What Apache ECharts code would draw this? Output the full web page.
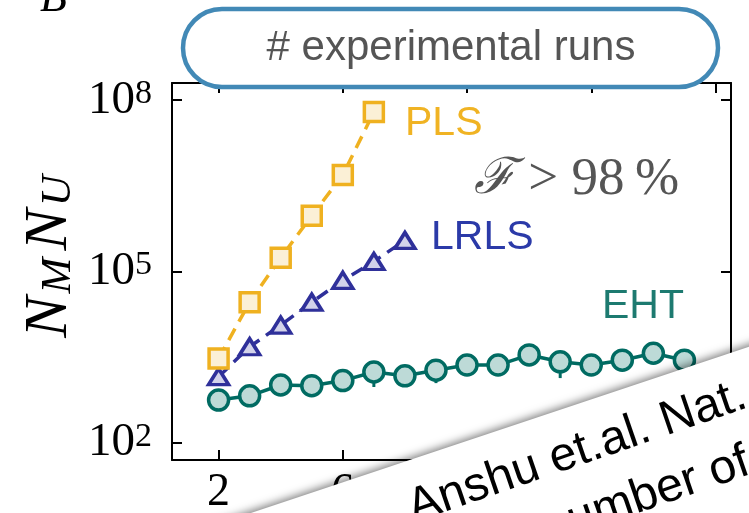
<!DOCTYPE html>
<html>
<head>
<meta charset="utf-8">
<script src="https://cdn.jsdelivr.net/npm/echarts@6/dist/echarts.min.js"></script>
<style>
  html, body { margin: 0; padding: 0; background: #fff; }
  #chart { width: 749px; height: 513px; }
</style>
</head>
<body>
<div id="chart"></div>
<script>
// Number of qubits (x) and measurement budget N_M * N_U (y, log scale)
const nPLS = [2, 3, 4, 5, 6, 7];
const plsValues = [3000, 29000, 174000, 950000, 4.9e6, 6.2e7];

const nLRLS = [2, 3, 4, 5, 6, 7, 8];
const lrlsValues = [1440, 4800, 11500, 29000, 70000, 150000, 350000];

const nEHT = [2, 3, 4, 5, 6, 7, 8, 9, 10, 11, 12, 13, 14, 15, 16, 17];
const ehtValues = [560, 665, 1030, 1000, 1230, 1740, 1490, 1870, 2300, 2300, 3460, 2620, 2300, 2800, 3700, 2800];
// lower end of the error bar where one sticks out below the marker
const ehtLower = [null, null, null, null, null, 950, null, 1110, null, null, null, 1360, null, null, null, null];

const xTicks = [2, 6, 10, 14, 18];
const yTicks = [100, 1e5, 1e8];
const yRange = [50, 2e8];

const colors = {
  pls: '#efb120', plsFill: '#fbf0d6', plsText: '#f0b323',
  lrls: '#2f309a', lrlsFill: '#d3d3ea', lrlsText: '#2b3aa8',
  eht: '#006b62', ehtFill: '#bddad7', ehtText: '#1d7a70',
  note: '#555555', pill: '#4289b6'
};

const serif = '"Liberation Serif", "DejaVu Serif", serif';
const sans = '"Liberation Sans", Arial, sans-serif';

// the y axis is a linear axis over log10 of the values (decades)
const lg = Math.log10;
const zip = (xs, ys) => xs.map((x, i) => [x, lg(ys[i])]);

const spine = { show: true, onZero: false, lineStyle: { color: '#000', width: 2 } };
const tick = (vals) => ({ show: true, inside: true, length: 10, customValues: vals, lineStyle: { color: '#000', width: 2 } });

const chart = echarts.init(document.getElementById('chart'), null, { renderer: 'canvas' });

const yTickPos = yTicks.map(lg);

const option = {
  animation: false,
  backgroundColor: '#fff',
  grid: { left: 172, right: 18, top: 83, bottom: 53, containLabel: false, outerBoundsMode: 'none' },
  xAxis: [
    {
      type: 'value', min: 0.5, max: 18.5, position: 'bottom',
      axisLine: spine, axisTick: tick(xTicks), splitLine: { show: false },
      axisLabel: { customValues: xTicks, color: '#000', fontFamily: serif, fontSize: 46, margin: 10 }
    },
    {
      type: 'value', min: 0.5, max: 18.5, position: 'top',
      axisLine: spine, axisTick: tick(xTicks), splitLine: { show: false },
      axisLabel: { show: false }
    }
  ],
  yAxis: [
    {
      type: 'value', min: lg(yRange[0]), max: lg(yRange[1]), position: 'left',
      axisLine: spine, axisTick: tick(yTickPos), splitLine: { show: false },
      axisLabel: {
        customValues: yTickPos, margin: 20,
        formatter: (v) => '{b|10}{s|' + Math.round(v) + '}',
        rich: {
          b: { fontFamily: serif, fontSize: 47, color: '#000', lineHeight: 46 },
          s: { fontFamily: serif, fontSize: 34, color: '#000', lineHeight: 18, verticalAlign: 'top' }
        }
      }
    },
    {
      type: 'value', min: lg(yRange[0]), max: lg(yRange[1]), position: 'right',
      axisLine: spine, axisTick: tick(yTickPos), splitLine: { show: false },
      axisLabel: { show: false }
    }
  ],
  series: [
    {
      name: 'EHT error', type: 'custom', xAxisIndex: 0, yAxisIndex: 0, z: 1,
      data: nEHT.map((n, i) => [n, ehtValues[i], ehtLower[i]])
                .filter(d => d[2] != null)
                .map(d => [d[0], lg(d[1]), lg(d[2])]),
      renderItem: (params, api) => {
        const p0 = api.coord([api.value(0), api.value(1)]);
        const p1 = api.coord([api.value(0), api.value(2)]);
        return { type: 'line', shape: { x1: p0[0], y1: p0[1], x2: p1[0], y2: p1[1] },
                 style: { stroke: colors.eht, lineWidth: 3 } };
      }
    },
    {
      name: 'EHT', type: 'line', z: 2, data: zip(nEHT, ehtValues),
      symbol: 'circle', symbolSize: 20,
      lineStyle: { color: colors.eht, width: 3.5 },
      itemStyle: { color: colors.ehtFill, borderColor: colors.eht, borderWidth: 3.5 }
    },
    {
      name: 'LRLS', type: 'line', z: 3, data: zip(nLRLS, lrlsValues),
      symbol: 'triangle', symbolSize: [20, 16],
      lineStyle: { color: colors.lrls, width: 3.5, type: [13, 8] },
      itemStyle: { color: colors.lrlsFill, borderColor: colors.lrls, borderWidth: 3.5 }
    },
    {
      name: 'PLS', type: 'line', z: 4, data: zip(nPLS, plsValues),
      symbol: 'rect', symbolSize: 19,
      lineStyle: { color: colors.pls, width: 3.5, type: [13, 8] },
      itemStyle: { color: colors.plsFill, borderColor: colors.pls, borderWidth: 3.5 }
    }
  ],
  graphic: [
    // panel letter
    { type: 'text', x: 40, y: 21, z: 20,
      style: { text: 'B', fill: '#000', font: 'italic 44px ' + serif, textAlign: 'left', align: 'left', textVerticalAlign: 'bottom', verticalAlign: 'bottom' } },
    // y axis title N_M N_U
    { type: 'text', x: 50, y: 256, rotation: Math.PI / 2, z: 20,
      style: {
        text: '{n|N}{m|M}{n|N}{m|U}', textAlign: 'center', align: 'center', textVerticalAlign: 'middle', verticalAlign: 'middle',
        rich: {
          n: { fontFamily: serif, fontStyle: 'italic', fontSize: 62, fill: '#000', lineHeight: 60, padding: [0, 3, 0, 3] },
          m: { fontFamily: serif, fontStyle: 'italic', fontSize: 43, fill: '#000', lineHeight: 30, verticalAlign: 'bottom', padding: [0, 4, 0, 0] }
        }
      } },
    // series names
    { type: 'text', x: 405, y: 124, z: 20,
      style: { text: 'PLS', fill: colors.plsText, font: '41px ' + sans, textVerticalAlign: 'middle', verticalAlign: 'middle' } },
    { type: 'text', x: 431, y: 238, z: 20,
      style: { text: 'LRLS', fill: colors.lrlsText, font: '41px ' + sans, textVerticalAlign: 'middle', verticalAlign: 'middle' } },
    { type: 'text', x: 602, y: 307, z: 20,
      style: { text: 'EHT', fill: colors.ehtText, font: '41px ' + sans, textVerticalAlign: 'middle', verticalAlign: 'middle' } },
    // fidelity note
    { type: 'text', x: 474, y: 180, z: 20,
      style: {
        text: '{f|ℱ}{t| > 98\u2009%}', textVerticalAlign: 'middle', verticalAlign: 'middle',
        rich: {
          f: { fontFamily: '"DejaVu Serif", serif', fontStyle: 'italic', fontSize: 50, fill: colors.note },
          t: { fontFamily: serif, fontSize: 53, fill: colors.note }
        }
      } },
    // header pill
    { type: 'rect', z: 50, shape: { x: 183, y: 9, width: 535, height: 78, r: 39 },
      style: { fill: '#fff', stroke: colors.pill, lineWidth: 4.5 } },
    { type: 'text', x: 451, y: 48, z: 51,
      style: { text: '# experimental runs', fill: colors.note, font: '42px ' + sans,
               textAlign: 'center', align: 'center', textVerticalAlign: 'middle', verticalAlign: 'middle' } },
    // overlapping sheet in the lower right corner
    { type: 'polygon', z: 100,
      shape: { points: [[200, 530], [760, 343], [760, 620], [200, 620]] },
      style: { fill: '#fff', shadowBlur: 9, shadowColor: 'rgba(0,0,0,0.5)', shadowOffsetX: -1, shadowOffsetY: -2 } },
    { type: 'group', x: 415, y: 526, rotation: 19 * Math.PI / 180, z: 110,
      children: [
        { type: 'text', x: 0, y: -17, z: 110,
          style: { text: 'Anshu et.al. Nat. Phys.', fill: '#000', font: '48px ' + sans, textVerticalAlign: 'middle', verticalAlign: 'middle' } },
        { type: 'text', x: 120, y: 47, z: 110,
          style: { text: 'number of', fill: '#000', font: '48px ' + sans, textVerticalAlign: 'middle', verticalAlign: 'middle' } }
      ] }
  ]
};

chart.setOption(option);
</script>
</body>
</html>
